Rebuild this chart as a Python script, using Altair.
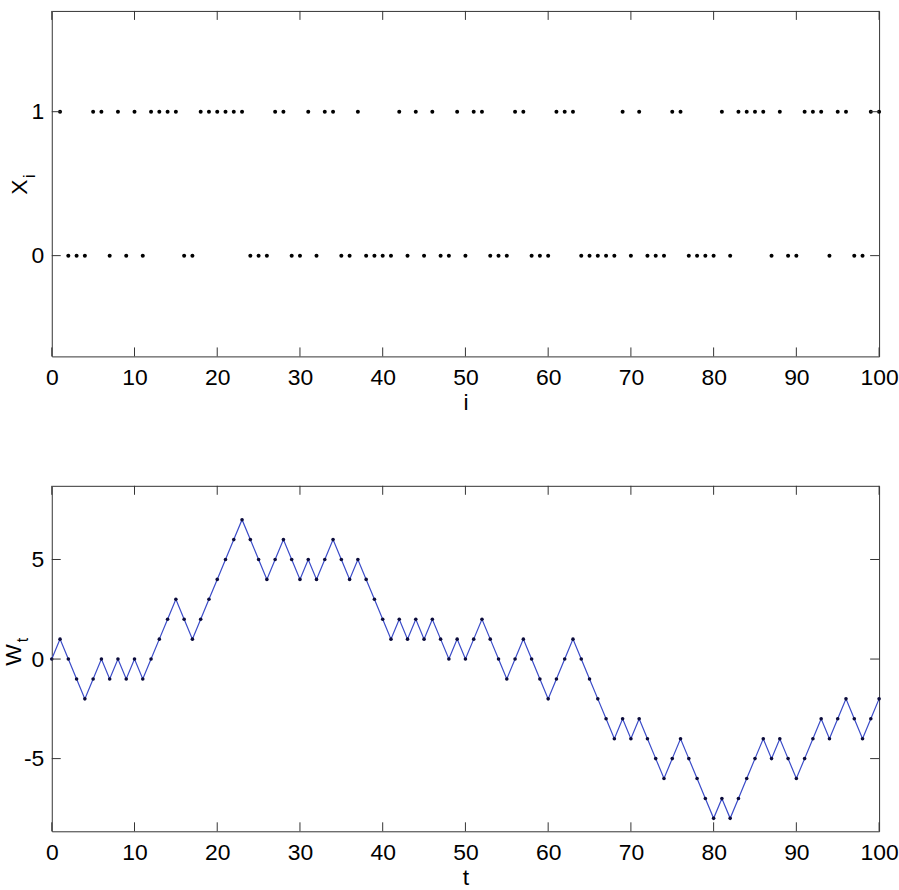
import altair as alt
import pandas as pd

# ---- data ----
I_VALUES = list(range(1, 101))
X_VALUES = [1, 0, 0, 0, 1, 1, 0, 1, 0, 1,
            0, 1, 1, 1, 1, 0, 0, 1, 1, 1,
            1, 1, 1, 0, 0, 0, 1, 1, 0, 0,
            1, 0, 1, 1, 0, 0, 1, 0, 0, 0,
            0, 1, 0, 1, 0, 1, 0, 0, 1, 0,
            1, 1, 0, 0, 0, 1, 1, 0, 0, 0,
            1, 1, 1, 0, 0, 0, 0, 0, 1, 0,
            1, 0, 0, 0, 1, 1, 0, 0, 0, 0,
            1, 0, 1, 1, 1, 1, 0, 1, 0, 0,
            1, 1, 1, 0, 1, 1, 0, 0, 1, 1]

T_VALUES = list(range(0, 101))
W_VALUES = [0,
            1, 0, -1, -2, -1, 0, -1, 0, -1, 0,
            -1, 0, 1, 2, 3, 2, 1, 2, 3, 4,
            5, 6, 7, 6, 5, 4, 5, 6, 5, 4,
            5, 4, 5, 6, 5, 4, 5, 4, 3, 2,
            1, 2, 1, 2, 1, 2, 1, 0, 1, 0,
            1, 2, 1, 0, -1, 0, 1, 0, -1, -2,
            -1, 0, 1, 0, -1, -2, -3, -4, -3, -4,
            -3, -4, -5, -6, -5, -4, -5, -6, -7, -8,
            -7, -8, -7, -6, -5, -4, -5, -4, -5, -6,
            -5, -4, -3, -4, -3, -2, -3, -4, -3, -2]

X_TICKS = [0, 10, 20, 30, 40, 50, 60, 70, 80, 90, 100]
TOP_Y_TICKS = [0, 1]
BOT_Y_TICKS = [-5, 0, 5]

FONT = "Liberation Sans, Arial, sans-serif"
W = 831
H = 347
TICK = 9
FRAME = "#333333"
LABEL_EXPR = "'' + datum.value"

top_df = pd.DataFrame({"i": I_VALUES, "x": X_VALUES})
bot_df = pd.DataFrame({"t": T_VALUES, "w": W_VALUES})

xscale = alt.Scale(domain=[0, 100], nice=False, zero=False)
top_yscale = alt.Scale(domain=[-0.7, 1.7], nice=False, zero=False)
bot_yscale = alt.Scale(domain=[-8.65, 8.7], nice=False, zero=False)


def xaxis(title):
    return alt.Axis(values=X_TICKS, ticks=False, domain=False, grid=False,
                    labelFlush=False, labelOverlap=False, labelPadding=10,
                    labelExpr=LABEL_EXPR,
                    title=title, titleFontWeight="normal", titlePadding=2)


def yaxis(vals):
    return alt.Axis(values=vals, ticks=False, domain=False, grid=False,
                    labelFlush=False, labelOverlap=False, labelPadding=8,
                    labelExpr=LABEL_EXPR, title=None)


def tick_layers(xfield, yfield, yticks, yscale):
    xt = pd.DataFrame({xfield: X_TICKS})
    yt = pd.DataFrame({yfield: yticks})
    base_x = alt.Chart(xt)
    base_y = alt.Chart(yt)
    xb = base_x.mark_rule(color=FRAME, strokeWidth=1).encode(
        x=alt.X(f"{xfield}:Q", scale=xscale), y=alt.value(H), y2=alt.value(H - TICK))
    xtp = base_x.mark_rule(color=FRAME, strokeWidth=1).encode(
        x=alt.X(f"{xfield}:Q", scale=xscale), y=alt.value(0), y2=alt.value(TICK))
    yl = base_y.mark_rule(color=FRAME, strokeWidth=1).encode(
        y=alt.Y(f"{yfield}:Q", scale=yscale), x=alt.value(0), x2=alt.value(TICK))
    yr = base_y.mark_rule(color=FRAME, strokeWidth=1).encode(
        y=alt.Y(f"{yfield}:Q", scale=yscale), x=alt.value(W), x2=alt.value(W - TICK))
    return [xb, xtp, yl, yr]


def spacer():
    return alt.Chart(pd.DataFrame({"s": [0]})).mark_rule(color="white", strokeWidth=1).encode(
        x=alt.value(-51), y=alt.value(0), y2=alt.value(1))


def label(txt, x, y, size):
    return alt.Chart(pd.DataFrame({"lab": [txt]})).mark_text(
        angle=270, align="center", baseline="middle", font=FONT, fontSize=size, color="black"
    ).encode(text="lab:N", x=alt.value(x), y=alt.value(y))


# ---- top panel ----
top_pts = alt.Chart(top_df).mark_circle(size=16, color="black", opacity=1).encode(
    x=alt.X("i:Q", scale=xscale, axis=xaxis("i")),
    y=alt.Y("x:Q", scale=top_yscale, axis=yaxis(TOP_Y_TICKS)),
)
top = alt.layer(
    top_pts,
    *tick_layers("i", "x", TOP_Y_TICKS, top_yscale),
    spacer(),
    label("X", -31.5, 177, 23),
    label("i", -22, 166, 16),
).properties(width=W, height=H)

# ---- bottom panel ----
bot_line = alt.Chart(bot_df).mark_line(color="#3a4bc8", strokeWidth=1.2).encode(
    x=alt.X("t:Q", scale=xscale, axis=xaxis("t")),
    y=alt.Y("w:Q", scale=bot_yscale, axis=yaxis(BOT_Y_TICKS)),
)
bot_pts = alt.Chart(bot_df).mark_circle(size=13, color="#0b0b3b", opacity=1).encode(
    x=alt.X("t:Q", scale=xscale),
    y=alt.Y("w:Q", scale=bot_yscale),
)
bottom = alt.layer(
    bot_line,
    bot_pts,
    *tick_layers("t", "w", BOT_Y_TICKS, bot_yscale),
    spacer(),
    label("W", -38, 170, 23),
    label("t", -29, 155, 16),
).properties(width=W, height=H)

chart = alt.vconcat(top, bottom, spacing=70).properties(
    padding={"left": 0, "top": 8, "right": 0, "bottom": 0},
    background="white",
).configure_view(
    stroke=FRAME, strokeWidth=1
).configure_axis(
    labelFont=FONT, labelFontSize=23, labelColor="black",
    titleFont=FONT, titleFontSize=23, titleColor="black",
)

chart.save("out.html", embed_options={"renderer": "svg", "actions": False})
